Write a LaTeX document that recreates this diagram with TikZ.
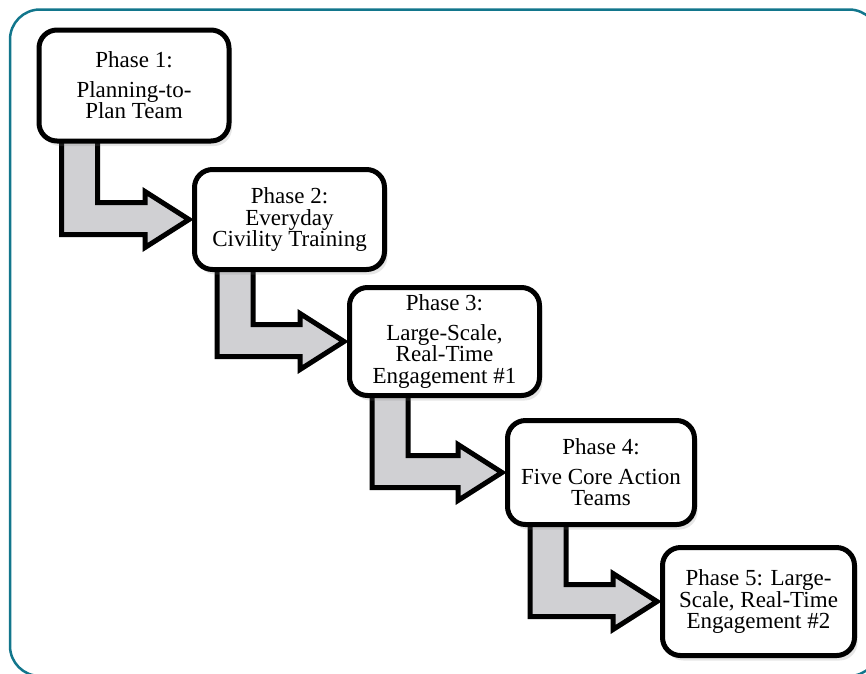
\documentclass[tikz,border=0pt]{standalone}
\usepackage{fontspec}
\setmainfont{Liberation Serif}
\usetikzlibrary{calc,backgrounds,shadows}
\definecolor{frameteal}{RGB}{18,118,140}
\definecolor{arrowgray}{RGB}{208,208,211}

\begin{document}
\begin{tikzpicture}[x=1pt,y=-1pt,
  phasebox/.style={draw,line width=5pt,rounded corners=18pt,fill=white,align=center,
    minimum width=190pt,inner sep=2pt,font=\fontsize{23}{21.5}\selectfont,
    drop shadow={shadow xshift=3pt,shadow yshift=-5pt,opacity=0.2}},
  bentarrow/.style={draw,line width=5pt,fill=arrowgray,line join=miter},
  outerframe/.style={draw=frameteal,line width=2.5pt,rounded corners=30pt}]
\useasboundingbox (0,0) rectangle (866,673);

% the five phases, placed at their centres
\node[phasebox,minimum height=111pt] (b1) at (134,85.5) {Phase 1:\\[8pt]Planning-to-\\Plan Team};
\node[phasebox,minimum height=100pt] (b2) at (289.5,219.5) {Phase 2:\\Everyday\\Civility Training};
\node[phasebox,minimum height=108pt] (b3) at (444.5,341.5) {Phase 3:\\[8pt]Large-Scale,\\Real-Time\\Engagement \#1};
\node[phasebox,minimum height=104pt,minimum width=187pt] (b4) at (601,472.5) {Phase 4:\\[8pt]Five Core Action\\Teams};
\node[phasebox,minimum height=108pt,minimum width=192pt] (b5) at (758.5,601.5) {Phase 5: Large-\\Scale, Real-Time\\Engagement \#2};

\begin{pgfonlayer}{background}
\draw[outerframe] (10,9.5) rectangle (879,676);

% bent arrows: the shaft starts under the upper box, the tip sits on the next one
\coordinate (a1) at ($ (b1.south west) + (25,-10) $);
\coordinate (t1) at (b2.west);
\draw[bentarrow] (a1) -- ($ (a1 |- t1) + (0,15) $) -- ($ (t1) + (-47,15) $) -- ($ (t1) + (-47,28) $)
  -- ($ (t1) + (-3,0) $) -- ($ (t1) + (-47,-28) $) -- ($ (t1) + (-47,-17) $)
  -- ($ (a1 |- t1) + (36,-17) $) -- ($ (a1) + (36,0) $) -- cycle;

\coordinate (a2) at ($ (b2.south west) + (25,-10) $);
\coordinate (t2) at (b3.west);
\draw[bentarrow] (a2) -- ($ (a2 |- t2) + (0,15) $) -- ($ (t2) + (-47,15) $) -- ($ (t2) + (-47,28) $)
  -- ($ (t2) + (-3,0) $) -- ($ (t2) + (-47,-28) $) -- ($ (t2) + (-47,-17) $)
  -- ($ (a2 |- t2) + (36,-17) $) -- ($ (a2) + (36,0) $) -- cycle;

\coordinate (a3) at ($ (b3.south west) + (25,-10) $);
\coordinate (t3) at (b4.west);
\draw[bentarrow] (a3) -- ($ (a3 |- t3) + (0,15) $) -- ($ (t3) + (-47,15) $) -- ($ (t3) + (-47,28) $)
  -- ($ (t3) + (-3,0) $) -- ($ (t3) + (-47,-28) $) -- ($ (t3) + (-47,-17) $)
  -- ($ (a3 |- t3) + (36,-17) $) -- ($ (a3) + (36,0) $) -- cycle;

\coordinate (a4) at ($ (b4.south west) + (25,-10) $);
\coordinate (t4) at (b5.west);
\draw[bentarrow] (a4) -- ($ (a4 |- t4) + (0,15) $) -- ($ (t4) + (-47,15) $) -- ($ (t4) + (-47,28) $)
  -- ($ (t4) + (-3,0) $) -- ($ (t4) + (-47,-28) $) -- ($ (t4) + (-47,-17) $)
  -- ($ (a4 |- t4) + (36,-17) $) -- ($ (a4) + (36,0) $) -- cycle;
\end{pgfonlayer}
\end{tikzpicture}
\end{document}
